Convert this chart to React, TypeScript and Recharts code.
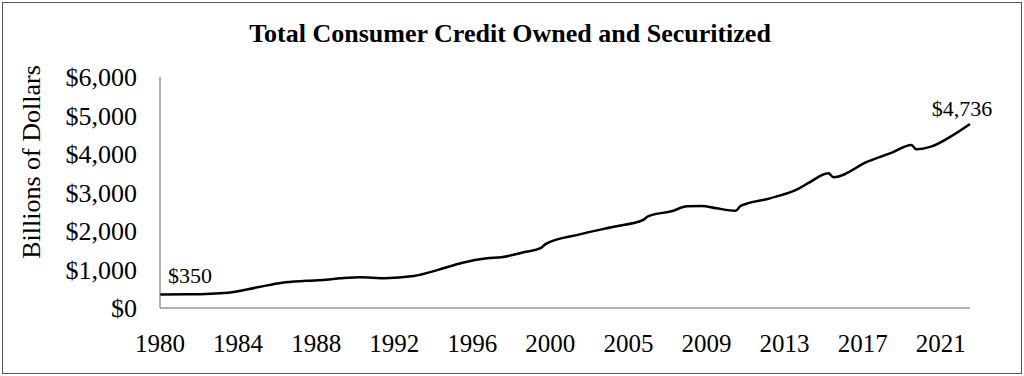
import * as React from 'react';
import { LineChart, Line, XAxis, YAxis } from 'recharts';

// quarter index counted from 1980 Q1
const quarterIndex = [0, 6, 14, 20, 25, 30, 34, 37, 41, 46, 52, 57, 62, 67, 70, 75, 78, 79, 86, 93, 99, 100, 105, 108, 111, 114, 118, 119, 125, 131, 133, 137, 138, 145, 150, 154, 155, 158, 162, 166];
const creditBillions = [350, 355, 397, 537, 657, 705, 735, 770, 800, 775, 830, 990, 1177, 1290, 1320, 1460, 1555, 1660, 1913, 2112, 2286, 2380, 2519, 2640, 2650, 2590, 2527, 2650, 2848, 3108, 3255, 3498, 3394, 3800, 4035, 4234, 4122, 4190, 4450, 4780];

const yearTicks = [0, 16, 32, 48, 64, 80, 96, 112, 128, 144, 160];
const yearLabels = ['1980', '1984', '1988', '1992', '1996', '2000', '2005', '2009', '2013', '2017', '2021'];
const dollarTicks = [0, 1000, 2000, 3000, 4000, 5000, 6000];

const startLabel = '$350';
const endLabel = '$4,736';

const data = quarterIndex.map((q, i) => ({ q, credit: creditBillions[i] }));

const FONT = '"Liberation Serif", "Times New Roman", serif';

const renderDot = (props: any) => {
  const { cx, cy, index } = props;
  if (index === 0) {
    return (
      <text key="start" x={cx + 8} y={cy - 12} fontSize={22} fontFamily={FONT} fill="#000">
        {startLabel}
      </text>
    );
  }
  if (index === data.length - 1) {
    return (
      <text key="end" x={cx - 8} y={cy - 8} fontSize={22} fontFamily={FONT} fill="#000" textAnchor="middle">
        {endLabel}
      </text>
    );
  }
  return <g key={'d' + index} />;
};

const App = () => (
  <div style={{ position: 'relative', width: 1024, height: 376, background: '#fff' }}>
    <style>{'body{margin:0}'}</style>
    <div
      style={{
        position: 'absolute', left: 2, top: 2, width: 1020, height: 372,
        border: '1.5px solid #555', boxSizing: 'border-box',
      }}
    />
    <LineChart width={1024} height={376} data={data} margin={{ top: 77, right: 54, bottom: 28, left: 10 }}>
      <XAxis
        dataKey="q"
        type="number"
        domain={[0, 166]}
        ticks={yearTicks}
        interval={0}
        tickFormatter={(v: number) => yearLabels[yearTicks.indexOf(v)]}
        tickLine={false}
        tickSize={0}
        tickMargin={26}
        height={40}
        axisLine={{ stroke: '#666', strokeWidth: 1 }}
        tick={{ fill: '#000', fontSize: 25, fontFamily: FONT }}
      />
      <YAxis
        domain={[0, 6000]}
        ticks={dollarTicks}
        interval={0}
        width={150}
        tickLine={false}
        tickSize={0}
        tickMargin={23}
        tickFormatter={(v: number) => '$' + v.toLocaleString('en-US')}
        axisLine={{ stroke: '#666', strokeWidth: 1 }}
        tick={{ fill: '#000', fontSize: 26, fontFamily: FONT }}
      />
      <Line
        type="monotone"
        dataKey="credit"
        stroke="#000"
        strokeWidth={2.5}
        dot={renderDot}
        activeDot={false}
        isAnimationActive={false}
      />
    </LineChart>
    <svg width={1024} height={376} style={{ position: 'absolute', left: 0, top: 0, pointerEvents: 'none' }}>
      <text x={510} y={42} textAnchor="middle" fontSize={26} fontWeight="bold" fontFamily={FONT} fill="#000">
        Total Consumer Credit Owned and Securitized
      </text>
      <text
        x={31}
        y={162}
        transform="rotate(-90 31 162)"
        textAnchor="middle"
        dominantBaseline="central"
        fontSize={26}
        fontFamily={FONT}
        fill="#000"
      >
        Billions of Dollars
      </text>
    </svg>
  </div>
);

export default App;
